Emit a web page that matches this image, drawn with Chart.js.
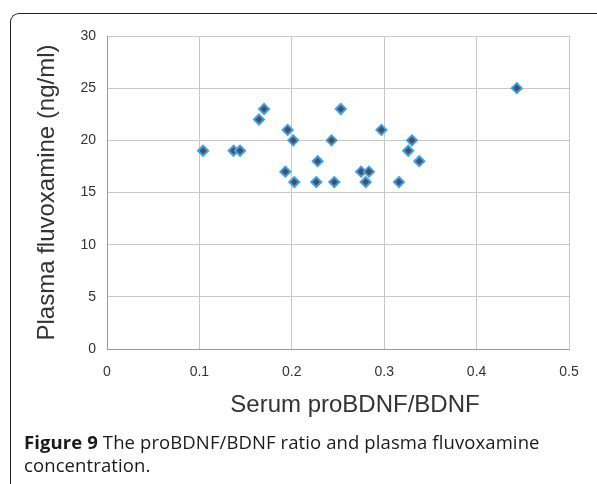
<!DOCTYPE html>
<html>
<head>
<meta charset="utf-8">
<script src="https://cdn.jsdelivr.net/npm/chart.js@4.4.0/dist/chart.umd.min.js"></script>
<style>
  html, body { margin: 0; padding: 0; background: #fff; width: 597px; height: 484px; overflow: hidden; }
  #wrap { position: relative; width: 597px; height: 484px; }
  #frame { position: absolute; left: 10px; top: 13px; width: 620px; height: 500px;
           border-left: 1.5px solid #222; border-top: 1.5px solid #222; border-top-left-radius: 9px; }
  canvas { position: absolute; left: 0; top: 0; }
  #caption { position: absolute; left: 24px; top: 430px; font-family: "Open Sans", "Noto Sans", sans-serif;
             font-size: 18.5px; line-height: 23px; color: #1a1a1a; white-space: nowrap; letter-spacing: 0.1px; }
  #caption b { font-weight: 700; }
</style>
</head>
<body>
<div id="wrap">
  <div id="frame"></div>
  <canvas id="c" width="597" height="484"></canvas>
  <div id="caption"><b>Figure 9</b> The proBDNF/BDNF ratio and plasma fluvoxamine<br>concentration.</div>
</div>
<script>
// Data
const ratioValues = [0.104, 0.137, 0.144, 0.1645, 0.170, 0.1955, 0.2015, 0.193, 0.2027, 0.2265, 0.228, 0.246, 0.243, 0.253, 0.275, 0.2835, 0.280, 0.297, 0.330, 0.326, 0.338, 0.316, 0.4435];
const fluvoxamineValues = [19, 19, 19, 22, 23, 21, 20, 17, 16, 16, 18, 16, 20, 23, 17, 17, 16, 21, 20, 19, 18, 16, 25];
const xTickLabels = ['0', '0.1', '0.2', '0.3', '0.4', '0.5'];
const yTickLabels = ['0', '5', '10', '15', '20', '25', '30'];
const xTitle = 'Serum proBDNF/BDNF';
const yTitle = 'Plasma fluvoxamine (ng/ml)';

const points = ratioValues.map((x, i) => ({ x: x, y: fluvoxamineValues[i] }));

// draws the x-axis title slightly right of centre, as in the reference
const xTitlePlugin = {
  id: 'xTitle',
  afterDraw(chart) {
    const { ctx, chartArea } = chart;
    ctx.save();
    ctx.font = '24px "Liberation Sans", Arial, sans-serif';
    ctx.fillStyle = '#333';
    ctx.textAlign = 'center';
    ctx.textBaseline = 'middle';
    ctx.fillText(xTitle, (chartArea.left + chartArea.right) / 2 + 17, chartArea.bottom + 56);
    ctx.restore();
  }
};

new Chart(document.getElementById('c'), {
  type: 'scatter',
  data: {
    datasets: [{
      data: points,
      pointStyle: 'rectRot',
      pointRadius: 5,
      pointHoverRadius: 5,
      backgroundColor: '#4b505a',
      borderColor: '#3f9ee6',
      borderWidth: 2
    }]
  },
  plugins: [xTitlePlugin],
  options: {
    responsive: false,
    animation: false,
    devicePixelRatio: 1,
    layout: { padding: { left: 0, top: 36, right: 28, bottom: 66 } },
    plugins: { legend: { display: false }, tooltip: { enabled: false } },
    scales: {
      x: {
        type: 'linear',
        min: 0, max: 0.5,
        ticks: {
          stepSize: 0.1,
          padding: 15,
          color: '#333',
          font: { family: 'Liberation Sans, Arial, sans-serif', size: 14 },
          callback: (v, i) => xTickLabels[i]
        },
        grid: { color: '#c8c8c8', lineWidth: 1, drawTicks: false },
        border: { display: true, color: '#999' },
        title: { display: false },
        afterFit: (s) => { s.height = 69; }
      },
      y: {
        type: 'linear',
        min: 0, max: 30,
        ticks: {
          stepSize: 5,
          padding: 11,
          color: '#333',
          font: { family: 'Liberation Sans, Arial, sans-serif', size: 14 },
          callback: (v, i) => yTickLabels[i]
        },
        grid: { color: '#c8c8c8', lineWidth: 1, drawTicks: false },
        border: { display: true, color: '#999' },
        title: {
          display: true, text: yTitle, color: '#333',
          font: { family: 'Liberation Sans, Arial, sans-serif', size: 24 },
          padding: { top: 33, bottom: 0 }
        },
        afterFit: (s) => { s.width = 107; }
      }
    }
  }
});
</script>
</body>
</html>
